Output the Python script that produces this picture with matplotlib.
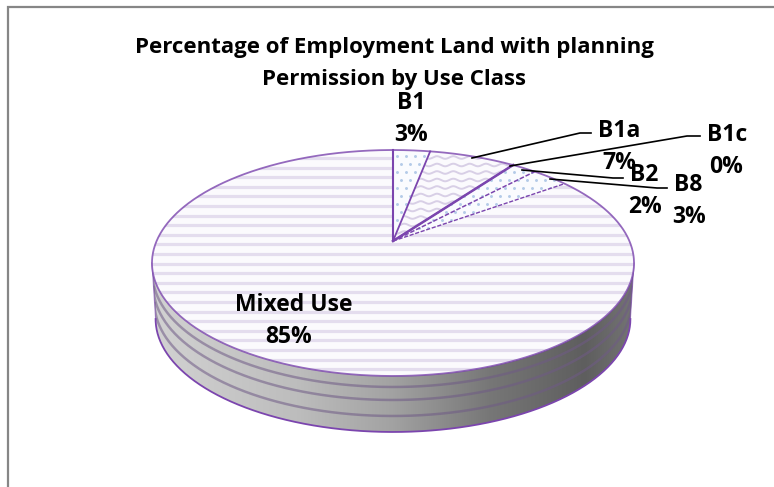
import numpy as np
import matplotlib
matplotlib.use("Agg")
import matplotlib.pyplot as plt
from matplotlib.colors import LinearSegmentedColormap
from matplotlib.patches import Polygon

categories = ["B1", "B1a", "B1c", "B2", "B8", "Mixed Use"]
values = [3, 7, 0, 2, 3, 85]
title_lines = ["Percentage of Employment Land with planning", "Permission by Use Class"]

W, H = 774, 487
fig = plt.figure(figsize=(W / 100, H / 100), dpi=100)
ax = fig.add_axes([0, 0, 1, 1])
ax.set_xlim(0, W)
ax.set_ylim(H, 0)
ax.axis("off")

FONT = "Open Sans"
PURPLE = "#7b45ae"
CX, CY, A, B, K = 393, 241, 236.4, 108.7, 0.1947


def proj(frac, dy=0.0, scale=1.0):
    t = 2 * np.pi * np.asarray(frac)
    X, Y = np.sin(t), np.cos(t)
    d = 1 + K * Y
    return CX + scale * A * X / d, CY - B * Y / d + dy


# frame (top and left only are visible)
ax.plot([8, 8, W], [H, 6.5, 6.5], color="#868686", lw=1.6, solid_joinstyle="miter", zorder=1)

# side wall
t0 = np.arccos(-K) / (2 * np.pi)
arc = np.linspace(t0, 1 - t0, 240)
tx, ty = proj(arc)
DEPTH = 56
bx, by = proj(arc, DEPTH, 0.985)
side = Polygon(np.r_[np.c_[tx, ty], np.c_[bx, by][::-1]], closed=True, fc="none", ec="none", zorder=2)
ax.add_patch(side)
cmap = LinearSegmentedColormap.from_list(
    "g",
    [(0, "#d2d2d2"), (0.3, "#bdbdbd"), (0.5, "#a2a2a2"), (0.7, "#777777"), (0.9, "#5e5e5e"), (1, "#747474")],
)
im = ax.imshow(np.linspace(0, 1, 256)[None, :], extent=[152, 634, 450, 250], cmap=cmap, aspect="auto", zorder=2)
im.set_clip_path(side)
ax.set_xlim(0, W)
ax.set_ylim(H, 0)
for off in [11, 24, 40]:
    f = off / DEPTH
    lx, ly = proj(arc, off, 1 - 0.015 * f)
    ln, = ax.plot(lx, ly, color="#6f5a86", lw=1.8, alpha=0.55, zorder=3)
    ln.set_clip_path(side)
ax.plot(bx, by, color=PURPLE, lw=1.3, zorder=4)
ax.plot([tx[0], bx[0]], [ty[0], by[0]], color=PURPLE, lw=0.8, alpha=0.6, zorder=4)
ax.plot([tx[-1], bx[-1]], [ty[-1], by[-1]], color=PURPLE, lw=0.8, alpha=0.6, zorder=4)

# slices from the values
cum = np.cumsum([0] + values) / sum(values)
styles = {"B1": "dots", "B1a": "wave", "B1c": "dots", "B2": "dots", "B8": "dots", "Mixed Use": "stripes"}
for name, a, b in zip(categories, cum[:-1], cum[1:]):
    if b - a <= 0:
        continue
    fr = np.linspace(a, b, max(3, int((b - a) * 400)))
    x, y = proj(fr)
    pts = np.r_[[[CX, CY]], np.c_[x, y]]
    poly = Polygon(pts, closed=True, fc="#fbfafd" if styles[name] != "dots" else "#fafbfe", ec="none", zorder=5)
    ax.add_patch(poly)
    kind = styles[name]
    if kind == "stripes":
        for yy in np.arange(350 - 9.6 * 22, 380, 9.6):
            l, = ax.plot([140, 650], [yy, yy], color="#e4ddee", lw=2.3, zorder=6)
            l.set_clip_path(poly)
    elif kind == "wave":
        xs = np.linspace(393, 530, 300)
        for yy in np.arange(150, 245, 7.5):
            l, = ax.plot(xs, yy + 1.3 * np.sin(xs / 2.6), color="#d8cfe6", lw=1.4, zorder=6)
            l.set_clip_path(poly)
    else:
        gx, gy = np.meshgrid(np.arange(392, 575, 9.0), np.arange(148, 245, 8.0))
        gx = gx.copy()
        gx[1::2] += 4.5
        s = ax.scatter(gx.ravel(), gy.ravel(), s=4.5, color="#b4cbe8", linewidths=0, zorder=6)
        s.set_clip_path(poly)

# outlines
fr = np.linspace(0, 1, 720)
x, y = proj(fr)
ax.plot(x, y, color=PURPLE, lw=1.3, alpha=0.8, zorder=8)
ls_map = {0: "-", 1: "-", 2: "-", 3: "-", 4: (0, (3, 1.2)), 5: (0, (3, 1.2))}
widths = {0: 1.5, 1: 1.3, 2: 1.8, 3: 1.1, 4: 1.1, 5: 1.0}
for i, c in enumerate(cum[:-1]):
    sx, sy = proj(c)
    ax.plot([CX, sx], [CY, sy], color=PURPLE, lw=widths[i], ls=ls_map[i], zorder=8)

# leader lines
leaders = [
    ([472, 580, 591], [158, 133, 133]),
    ([510, 687, 700], [166, 136, 136]),
    ([522, 613, 623], [170, 178, 178]),
    ([550, 657, 667], [179, 188, 188]),
]
for lx, ly in leaders:
    ax.plot(lx, ly, color="black", lw=1.2, zorder=9)

# text
label_pos = {
    "B1": ((411, 103), (411, 135)),
    "B1a": ((619, 131), (619, 163)),
    "B1c": ((727, 135), (726, 167)),
    "B2": ((644, 175), (645, 207)),
    "B8": ((688, 185), (689, 217)),
    "Mixed Use": ((294, 305), (289, 337)),
}
FS = 16.5
for name, v in zip(categories, values):
    p1, p2 = label_pos[name]
    ax.text(*p1, name, ha="center", va="center", fontsize=FS, fontweight="bold", family=FONT, zorder=10)
    ax.text(*p2, f"{v}%", ha="center", va="center", fontsize=FS, fontweight="bold", family=FONT, zorder=10)
ax.text(394, 47, title_lines[0], ha="center", va="center", fontsize=16, fontweight="bold", family=FONT, zorder=10)
ax.text(394, 79, title_lines[1], ha="center", va="center", fontsize=16, fontweight="bold", family=FONT, zorder=10)

fig.savefig("out.png", dpi=100)
